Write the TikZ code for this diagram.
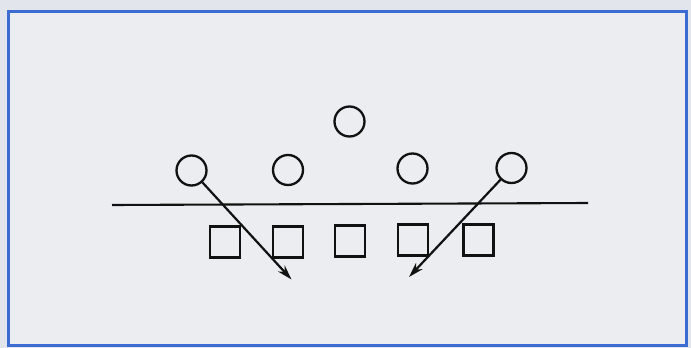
\documentclass[tikz,border=0pt]{standalone}
\usetikzlibrary{arrows.meta}
\definecolor{bgc}{HTML}{E3E5EC}
\definecolor{panel}{HTML}{ECEDF0}
\definecolor{frameblue}{HTML}{3C6CD2}
\definecolor{ink}{HTML}{111111}
\begin{document}
\begin{tikzpicture}[x=1pt,y=-1pt,
  player/.style={circle,draw=ink,line width=2.3pt,minimum size=30pt,inner sep=0pt},
  lineman/.style={rectangle,draw=ink,line width=2.2pt,minimum width=30pt,minimum height=31pt,inner sep=0pt},
  rush/.style={draw=ink,line width=2.2pt,-{Stealth[length=15pt,width=9pt]}}]
\fill[bgc] (0,0) rectangle (691,348);
\useasboundingbox (0,0) rectangle (691,348);
\draw[frameblue,line width=3pt,fill=panel] (8.5,11) rectangle (686.5,345.5);
% defense
\node[player] (s) at (349.5,121.5) {};
\node[player] (l1) at (191.5,170.5) {};
\node[player] (l2) at (288,170) {};
\node[player] (r2) at (412.5,168.5) {};
\node[player] (r1) at (511.5,168) {};
% line of scrimmage
\coordinate (los1) at (112,205);
\coordinate (los2) at (588,203);
\draw[ink,line width=2.1pt] (los1) -- (los2);
% offense
\node[lineman] (o1) at (225,242) {};
\node[lineman] (o2) at (288,242) {};
\node[lineman] (o3) at (350,241) {};
\node[lineman] (o4) at (413,240) {};
\node[lineman] (o5) at (478.5,240) {};
% rushes
\coordinate (t1) at (291.5,279.5);
\coordinate (t2) at (409,277);
\draw[rush] (l1) -- (t1);
\draw[rush] (r1) -- (t2);
\end{tikzpicture}
\end{document}
